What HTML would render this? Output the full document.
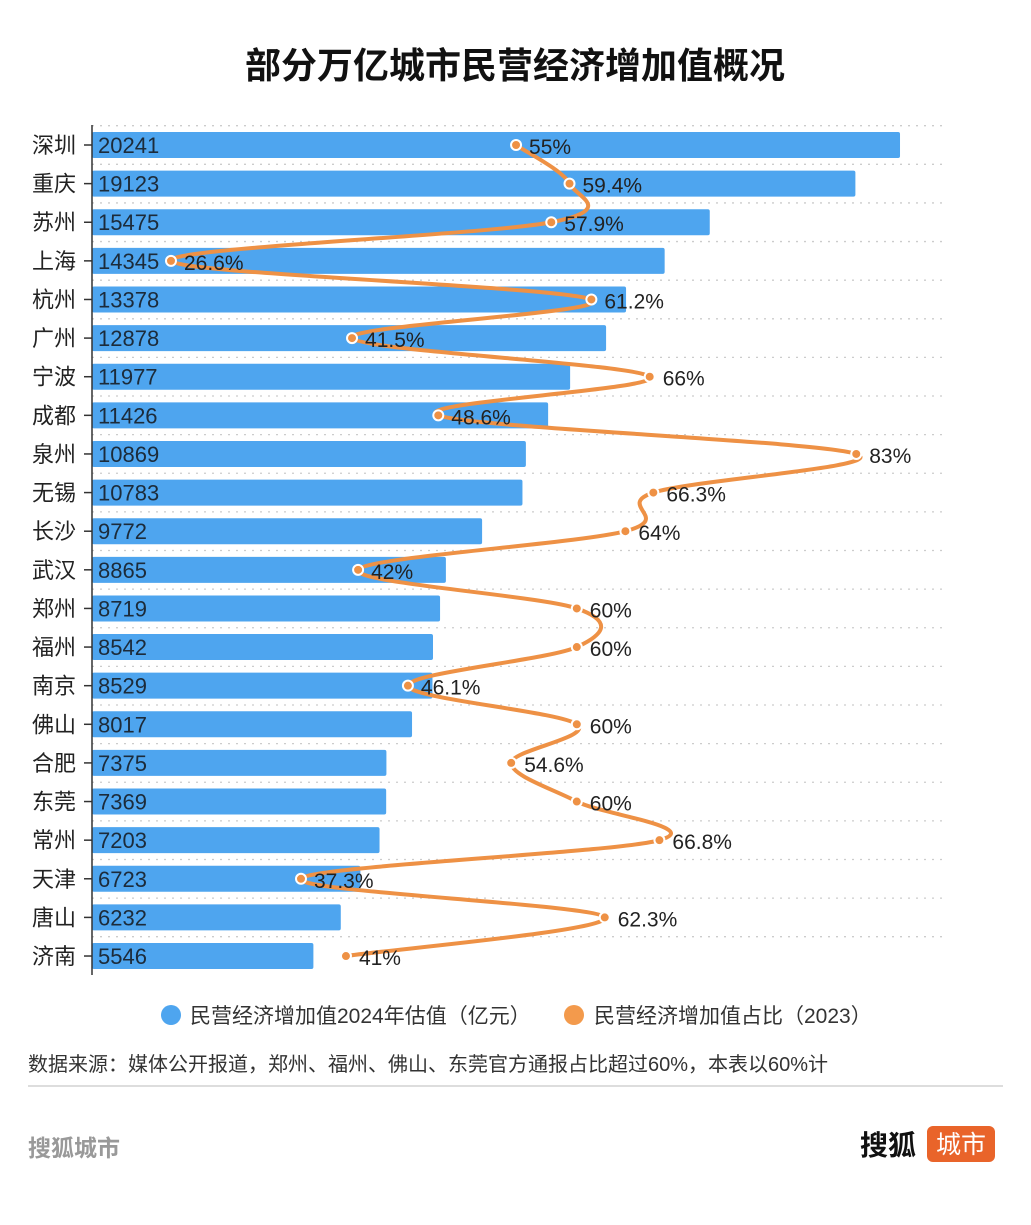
<!DOCTYPE html>
<html><head><meta charset="utf-8">
<style>
body{margin:0;background:#fff;font-family:"Liberation Sans","Noto Sans CJK SC",sans-serif;}
svg text{font-family:"Liberation Sans","Noto Sans CJK SC",sans-serif;}
</style></head>
<body>
<svg id="chart" width="1031" height="1220" xmlns="http://www.w3.org/2000/svg">
<text x="515" y="78" text-anchor="middle" font-size="36" font-weight="bold" fill="#111">部分万亿城市民营经济增加值概况</text>
<g id="grid"></g>
<g id="bars"></g>
<line x1="92" y1="125" x2="92" y2="975" stroke="#333" stroke-width="1.5"/>
<g id="line"></g>
<g>
<circle cx="171" cy="1015" r="10" fill="#4ea5ef"/>
<text x="190" y="1023" font-size="21" fill="#333">民营经济增加值2024年估值（亿元）</text>
<circle cx="574" cy="1015" r="10" fill="#f39a4c"/>
<text x="594" y="1023" font-size="21" fill="#333">民营经济增加值占比（2023）</text>
</g>
<text x="28" y="1071" font-size="20" fill="#333">数据来源：媒体公开报道，郑州、福州、佛山、东莞官方通报占比超过60%，本表以60%计</text>
<line x1="28" y1="1086" x2="1003" y2="1086" stroke="#ddd" stroke-width="2"/>
<text x="28" y="1156" font-size="23" font-weight="bold" fill="#999">搜狐城市</text>
<text x="860" y="1155" font-size="28" font-weight="bold" fill="#111">搜狐</text>
<rect x="927" y="1126" width="68" height="36" rx="6" fill="#e9642a"/>
<text x="961" y="1153" font-size="25" fill="#fff" text-anchor="middle">城市</text>
</svg>
<script>
const cities=["深圳","重庆","苏州","上海","杭州","广州","宁波","成都","泉州","无锡","长沙","武汉","郑州","福州","南京","佛山","合肥","东莞","常州","天津","唐山","济南"];
const values=[20241,19123,15475,14345,13378,12878,11977,11426,10869,10783,9772,8865,8719,8542,8529,8017,7375,7369,7203,6723,6232,5546];
const ratios=[55,59.4,57.9,26.6,61.2,41.5,66,48.6,83,66.3,64,42,60,60,46.1,60,54.6,60,66.8,37.3,62.3,41];
const ratioLabels=["55%","59.4%","57.9%","26.6%","61.2%","41.5%","66%","48.6%","83%","66.3%","64%","42%","60%","60%","46.1%","60%","54.6%","60%","66.8%","37.3%","62.3%","41%"];
const NS="http://www.w3.org/2000/svg";
const x0=92, y0=145, step=38.62;
function xv(v){return x0+v*0.03992;}
function xr(p){return 12.15*p-152.2;}
function yr(i){return y0+i*step;}
function mk(tag,attrs,parent){const e=document.createElementNS(NS,tag);for(const k in attrs)e.setAttribute(k,attrs[k]);parent.appendChild(e);return e;}
const grid=document.getElementById('grid'),bars=document.getElementById('bars'),lg=document.getElementById('line');
for(let i=0;i<cities.length;i++){
  const y=yr(i)-step/2;
  const l=mk('line',{x1:x0,x2:942,y1:y,y2:y,stroke:'#ccc','stroke-width':1.3,'stroke-dasharray':'2 6'},grid);
  
  
}
cities.forEach((c,i)=>{
  const y=yr(i);
  const r=mk('rect',{x:x0,y:y-13,width:xv(values[i])-x0,height:26,rx:2,fill:'#4ea5ef'},bars);
  
  
  const t=mk('text',{x:76,y:y+8,'font-size':22,fill:'#222','text-anchor':'end'},bars);t.textContent=c;
  
  
  const tk=mk('line',{x1:84,x2:92,y1:y,y2:y,stroke:'#333','stroke-width':1.5},bars);
  
  
  const v=mk('text',{x:98,y:y+8,'font-size':22,fill:'#1c2b3a'},bars);v.textContent=values[i];
  
  
});
const pts=ratios.map((p,i)=>[xr(p),yr(i)]);
let d='M'+pts[0][0]+','+pts[0][1];
for(let i=0;i<pts.length-1;i++){
  const p0=pts[Math.max(0,i-1)],p1=pts[i],p2=pts[i+1],p3=pts[Math.min(pts.length-1,i+2)];
  const c1=[p1[0]+(p2[0]-p0[0])/6,p1[1]+(p2[1]-p0[1])/6];
  const c2=[p2[0]-(p3[0]-p1[0])/6,p2[1]-(p3[1]-p1[1])/6];
  d+=` C${c1[0]},${c1[1]} ${c2[0]},${c2[1]} ${p2[0]},${p2[1]}`;
}
const path=mk('path',{d:d,fill:'none',stroke:'#ee9145','stroke-width':4},lg);


pts.forEach((p,i)=>{
  const c=mk('circle',{cx:p[0],cy:p[1],r:5,fill:'#ee9145',stroke:'#fff','stroke-width':2},lg);
  
  
  const t=mk('text',{x:p[0]+13,y:p[1]+9,'font-size':21,fill:'#222'},lg);t.textContent=ratioLabels[i];
  
  
});
</script>
</body></html>
